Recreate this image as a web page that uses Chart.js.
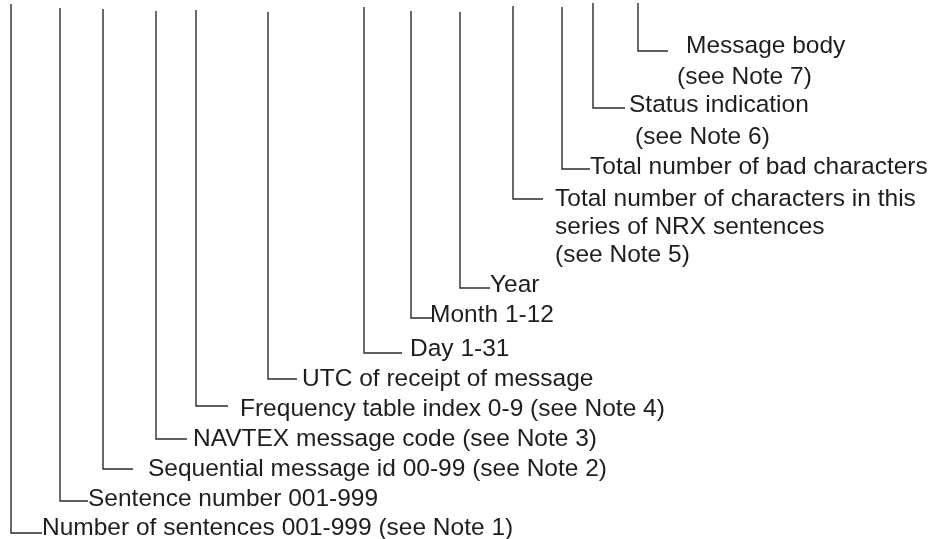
<!DOCTYPE html>
<html>
<head>
<meta charset="utf-8">
<script src="https://cdn.jsdelivr.net/npm/chart.js@4.4.1/dist/chart.umd.min.js"></script>
<style>
    html, body { margin: 0; padding: 0; background: #ffffff; }
    canvas { display: block; }
</style>
</head>
<body>
<canvas id="nrxChart" width="943" height="539"></canvas>
<script>

// FIELD DATA (one entry per sentence field, left to right)

const fieldX     = [11, 60, 103, 156, 196, 268, 364, 411, 460, 513, 562, 593, 638];
const lineTop    = [4, 8, 9, 11, 10, 12, 7, 11, 12, 6, 7, 3, 3];
const lineBottom = [533, 501, 469, 439, 406, 379, 353, 318, 288, 199, 169, 108, 51];
const tickEnd    = [42, 88, 133, 187, 228, 297, 402, 433, 490, 543, 590, 625, 668];

const labelText = [
    ["Number of sentences 001-999 (see Note 1)"],
    ["Sentence number 001-999"],
    ["Sequential message id 00-99 (see Note 2)"],
    ["NAVTEX message code (see Note 3)"],
    ["Frequency table index 0-9 (see Note 4)"],
    ["UTC of receipt of message"],
    ["Day 1-31"],
    ["Month 1-12"],
    ["Year"],
    ["Total number of characters in this", "series of NRX sentences", "(see Note 5)"],
    ["Total number of bad characters"],
    ["Status indication", "(see Note 6)"],
    ["Message body", "(see Note 7)"]
];
const labelX = [[42], [88], [148], [193], [240], [302], [410], [430], [490],
    [555, 555, 555], [590], [629, 635], [686, 677]];
const labelY = [[526], [497], [467], [437], [407], [377], [347], [313], [283],
    [197, 225, 253], [165], [103, 135], [44, 75]];



// CONNECTOR DATASETS (vertical drop + short horizontal tick)

const datasets = fieldX.map((x, i) => ({
    data: [
        { x: x, y: lineTop[i] },
        { x: x, y: lineBottom[i] },
        { x: tickEnd[i], y: lineBottom[i] }
    ],
    showLine: true,
    borderColor: "#2b2b2b",
    borderWidth: 1.4,
    pointRadius: 0,
    fill: false,
    tension: 0
}));



// LABEL PLUGIN

const fieldLabels = {
    id: "fieldLabels",
    afterDatasetsDraw(chart) {
        const ctx = chart.ctx;
        const xs = chart.scales.x;
        const ys = chart.scales.y;
        ctx.save();
        ctx.fillStyle = "#1e1e1e";
        ctx.font = "24.5px 'Liberation Sans', Arial, sans-serif";
        ctx.textAlign = "left";
        ctx.textBaseline = "alphabetic";
        labelText.forEach((lines, i) => {
            lines.forEach((t, j) => {
                const px = xs.getPixelForValue(labelX[i][j]);
                const py = ys.getPixelForValue(labelY[i][j]) + 8.5;
                ctx.fillText(t, px, py);
            });
        });
        ctx.restore();
    }
};



// CHART

new Chart(document.getElementById("nrxChart").getContext("2d"), {
    type: "scatter",
    data: { datasets: datasets },
    options: {
        responsive: false,
        animation: false,
        layout: { padding: 0 },
        plugins: { legend: { display: false }, tooltip: { enabled: false } },
        scales: {
            x: { type: "linear", min: 0, max: 943, display: false },
            y: { type: "linear", min: 0, max: 539, reverse: true, display: false }
        }
    },
    plugins: [fieldLabels]
});

</script>
</body>
</html>
